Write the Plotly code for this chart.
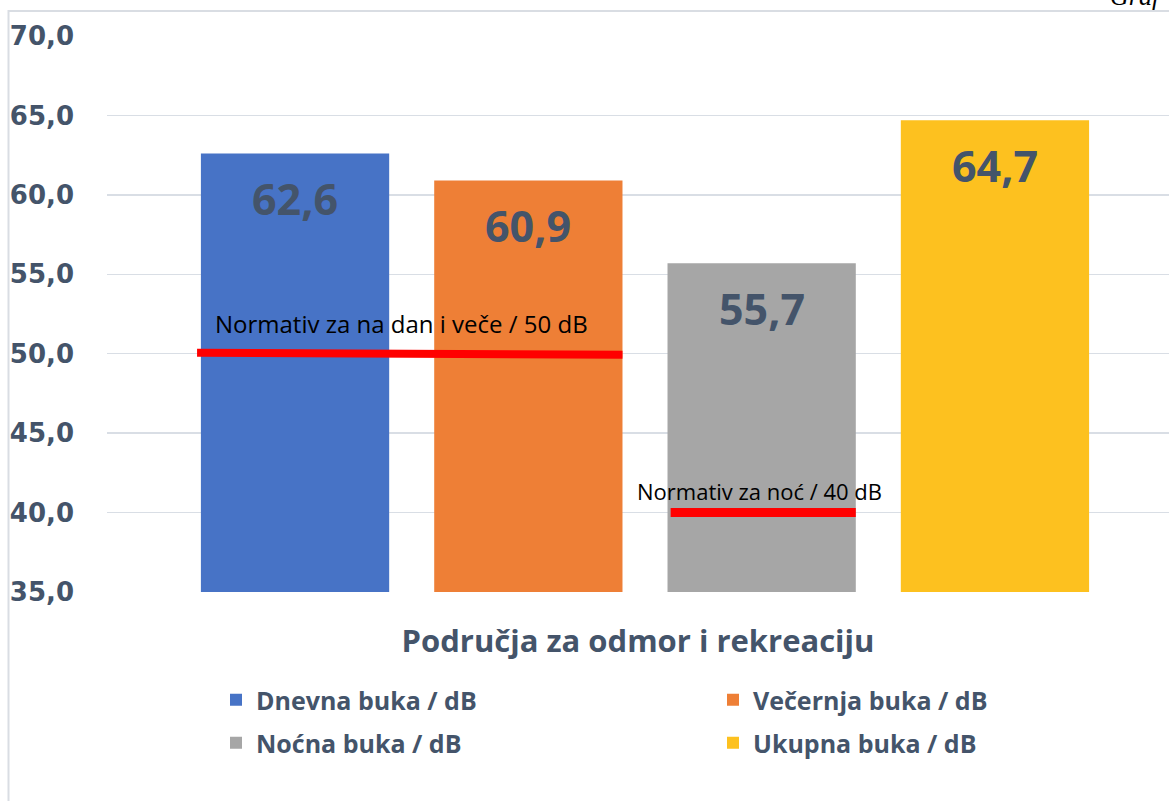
import plotly.graph_objects as go

# ---- data ----
series = ["Dnevna buka / dB", "Večernja buka / dB", "Noćna buka / dB", "Ukupna buka / dB"]
values = [62.6, 60.9, 55.7, 64.7]
value_labels = ["62,6", "60,9", "55,7", "64,7"]
colors = ["#4773c6", "#ee7f36", "#a6a6a6", "#fdc11f"]
category_title = "Područja za odmor i rekreaciju"
norm_labels = ["Normativ za na dan i veče / 50 dB", "Normativ za noć / 40 dB"]
norm_values = [50, 40]
y_ticks = [35, 40, 45, 50, 55, 60, 65, 70]
y_tick_text = ["35,0", "40,0", "45,0", "50,0", "55,0", "60,0", "65,0", "70,0"]

# ---- layout geometry (page pixels; body margin removed by post_script) ----
W, H = 1169, 801
L, R, T, B = 107, 0, 36, 801 - 592
PW, PH = W - L - R, H - T - B


def px_x(p):
    return (p - L) / PW


def px_y(p):
    return (H - B - p) / PH


TXT = "#44546a"
BOLD = "Open Sans"
bargap = 0.193
half = (1 - bargap) / 2

fig = go.Figure()
legend_ids = ["legend", "legend2", "legend3", "legend4"]
for name, v, c, lg in zip(series, values, colors, legend_ids):
    fig.add_trace(go.Bar(
        x=[name], y=[v], name=name,
        marker=dict(color=c, line=dict(width=0)),
        legend=lg, showlegend=True, hoverinfo="skip",
    ))

# value labels inside the bars
for name, v, lab in zip(series, values, value_labels):
    fig.add_annotation(x=name, y=v, yshift=-45, text=f"<b>{lab}</b>", showarrow=False,
                       font=dict(family=BOLD, size=43, color=TXT), yanchor="middle")

# normative lines
fig.add_shape(type="line", xref="x", yref="y", x0=-0.42, x1=1 + half,
              y0=norm_values[0] + 0.06, y1=norm_values[0] - 0.06,
              line=dict(color="#ff0000", width=8))
fig.add_shape(type="line", xref="x", yref="y", x0=2 - 0.39, x1=2 + half,
              y0=norm_values[1], y1=norm_values[1],
              line=dict(color="#ff0000", width=9))
fig.add_annotation(x=0.455, y=norm_values[0], yshift=30, xref="x", yref="y",
                   text=norm_labels[0], showarrow=False,
                   font=dict(family="Open Sans", size=24, color="#000000"))
fig.add_annotation(x=1.99, y=norm_values[1], yshift=22, xref="x", yref="y",
                   text=norm_labels[1], showarrow=False,
                   font=dict(family="Open Sans", size=22, color="#000000"))

# partially visible caption at the top right (cut by the page edge, as in the source)
fig.add_annotation(xref="paper", yref="paper", x=px_x(1108), y=px_y(-4), xanchor="left",
                   yanchor="middle", text="<i>Graf</i>", showarrow=False,
                   font=dict(family="Liberation Serif", size=26, color="#000000"))

# frame of the chart area (only left and top edges visible)
fig.add_shape(type="rect", xref="paper", yref="paper",
              x0=px_x(8.5), x1=px_x(1300), y0=px_y(11), y1=px_y(900),
              line=dict(color="#d9dde3", width=2), fillcolor="rgba(0,0,0,0)", layer="below")

legend_pos = [(216, 700), (713, 700), (216, 743), (713, 743)]
legends = {}
for lg, (lx, ly) in zip(legend_ids, legend_pos):
    legends[lg] = dict(orientation="h", x=px_x(lx), y=px_y(ly), xanchor="left", yanchor="middle",
                       font=dict(family=BOLD, size=25, color=TXT, weight="bold"),
                       bgcolor="rgba(0,0,0,0)", visible=True)

fig.update_layout(
    width=W, height=H,
    margin=dict(l=L, r=R, t=T, b=B, pad=0),
    paper_bgcolor="white", plot_bgcolor="white",
    barmode="overlay", bargap=bargap,
    separators=", ",
    showlegend=True,
    font=dict(family=BOLD, color=TXT),
    xaxis=dict(
        type="category", range=[-0.806, 3.746], showticklabels=False,
        showgrid=False, zeroline=False, showline=False, ticks="",
        title=dict(text=f"<b>{category_title}</b>", standoff=38,
                   font=dict(family=BOLD, size=31, color=TXT)),
    ),
    yaxis=dict(
        range=[35, 70], tickvals=y_ticks, ticktext=y_tick_text,
        showgrid=True, gridcolor="#d9dee5", gridwidth=1.5,
        zeroline=False, showline=False, ticks="",
        tickfont=dict(family="DejaVu Sans", size=26, color=TXT, weight="bold"),
        ticklabelstandoff=32,
    ),
    **legends,
)

fig.write_html("out.html",
               config={"displayModeBar": False, "staticPlot": True},
               post_script="document.body.style.margin='0';document.body.style.overflow='hidden';")
